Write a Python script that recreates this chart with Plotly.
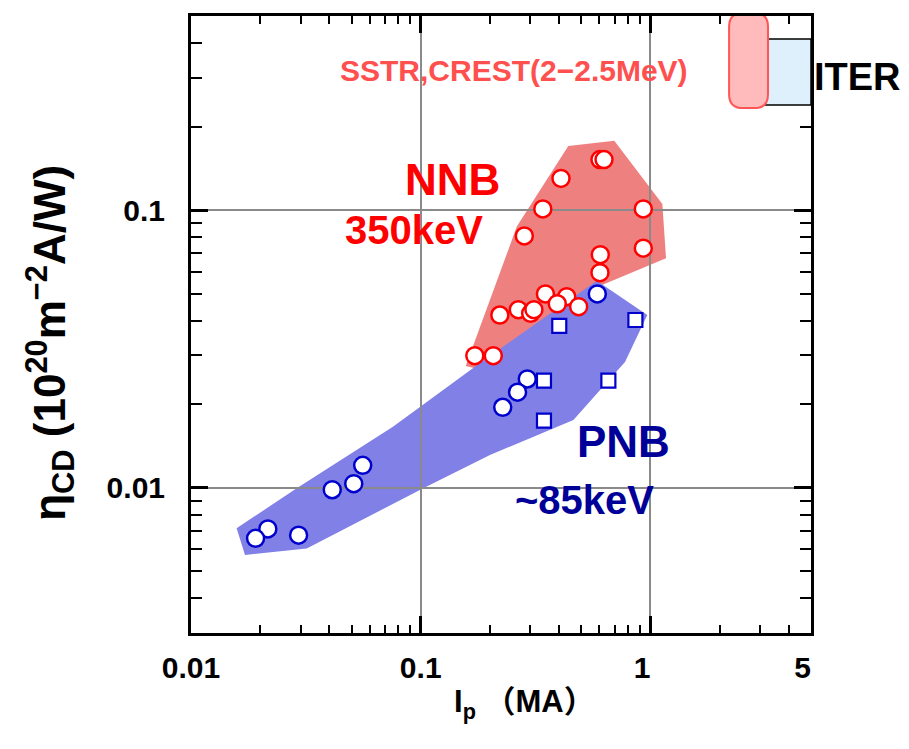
import math
import plotly.graph_objects as go

# ---------------- data ----------------
nnb_ip = [0.603, 0.628, 0.408, 0.340, 0.931, 0.2825, 0.931, 0.605, 0.603, 0.349,
          0.432, 0.393, 0.487, 0.266, 0.301, 0.311, 0.221, 0.172, 0.207]
nnb_eta = [0.152, 0.152, 0.130, 0.101, 0.101, 0.0807, 0.0729, 0.0691, 0.0595, 0.0499,
           0.0488, 0.0460, 0.0449, 0.0438, 0.0425, 0.0438, 0.0419, 0.0299, 0.0299]

pnb_circ_ip = [0.587, 0.291, 0.264, 0.2275, 0.0559, 0.0511, 0.0412, 0.0294, 0.0216, 0.0191]
pnb_circ_eta = [0.0499, 0.02465, 0.0221, 0.0195, 0.01205, 0.01035, 0.00984, 0.00675, 0.00711, 0.00658]

pnb_sq_ip = [0.401, 0.860, 0.344, 0.656, 0.344]
pnb_sq_eta = [0.0383, 0.0402, 0.0243, 0.0243, 0.01745]

# region envelopes
pnb_region_ip = [0.0158, 0.01718, 0.0319, 0.1026, 0.2002, 0.462, 0.775, 0.969, 0.584, 0.1812, 0.0757, 0.02885]
pnb_region_eta = [0.00715, 0.00573, 0.00605, 0.00996, 0.01313, 0.01755, 0.02838, 0.0419, 0.0557, 0.02815, 0.0166, 0.00996]

nnb_region_ip = [0.157, 0.262, 0.439, 0.696, 1.127, 1.169, 0.546, 0.2002]
nnb_region_eta = [0.02746, 0.0872, 0.1702, 0.1778, 0.1052, 0.0671, 0.0516, 0.0261]

iter_ip = [3.0, 5.0]
iter_eta = [0.239, 0.413]
sstr_ip = [2.2, 3.25]
sstr_eta = [0.233, 0.513]

x_tickvals = [0.01, 0.1, 1, 5]
x_ticktext = ["0.01", "0.1", "1\u2007", "5\u2007"]
x_minor = [0.02, 0.03, 0.04, 0.05, 0.06, 0.07, 0.08, 0.09,
           0.2, 0.3, 0.4, 0.5, 0.6, 0.7, 0.8, 0.9, 2, 3, 4]
y_tickvals = [0.01, 0.1, 0.5]
y_ticktext = ["0.01", "0.1", "0.5"]
y_minor = [0.004, 0.005, 0.006, 0.007, 0.008, 0.009,
           0.02, 0.03, 0.04, 0.05, 0.06, 0.07, 0.08, 0.09, 0.2, 0.3, 0.4]

FONT = "Liberation Sans, Noto Sans CJK JP, Arial, sans-serif"


def poly_path(xs, ys):
    pts = [f"{x:.6f},{y:.6f}" for x, y in zip(xs, ys)]
    return "M " + " L ".join(pts) + " Z"


def rounded_path(xr, yr, rx, ry):
    lx0, lx1 = math.log10(xr[0]), math.log10(xr[1])
    ly0, ly1 = math.log10(yr[0]), math.log10(yr[1])
    X = lambda v: f"{10 ** v:.6f}"
    Y = lambda v: f"{10 ** v:.6f}"
    return (f"M {X(lx0 + rx)},{Y(ly1)} L {X(lx1 - rx)},{Y(ly1)} "
            f"Q {X(lx1)},{Y(ly1)} {X(lx1)},{Y(ly1 - ry)} "
            f"L {X(lx1)},{Y(ly0 + ry)} Q {X(lx1)},{Y(ly0)} {X(lx1 - rx)},{Y(ly0)} "
            f"L {X(lx0 + rx)},{Y(ly0)} Q {X(lx0)},{Y(ly0)} {X(lx0)},{Y(ly0 + ry)} "
            f"L {X(lx0)},{Y(ly1 - ry)} Q {X(lx0)},{Y(ly1)} {X(lx0 + rx)},{Y(ly1)} Z")


fig = go.Figure()

fig.add_trace(go.Scatter(
    x=pnb_sq_ip, y=pnb_sq_eta, mode="markers",
    marker=dict(symbol="square", size=14, color="white",
                line=dict(color="#0000CC", width=2.2)),
    showlegend=False, cliponaxis=False))
fig.add_trace(go.Scatter(
    x=pnb_circ_ip, y=pnb_circ_eta, mode="markers",
    marker=dict(symbol="circle", size=17, color="white",
                line=dict(color="#0000CC", width=2.5)),
    showlegend=False, cliponaxis=False))
fig.add_trace(go.Scatter(
    x=nnb_ip, y=nnb_eta, mode="markers",
    marker=dict(symbol="circle", size=17, color="white",
                line=dict(color="#FF0000", width=2.5)),
    showlegend=False, cliponaxis=False))

shapes = [
    dict(type="path", path=poly_path(nnb_region_ip, nnb_region_eta), xref="x", yref="y",
         fillcolor="#EE8080", line=dict(width=0), layer="below"),
    dict(type="path", path=poly_path(pnb_region_ip, pnb_region_eta), xref="x", yref="y",
         fillcolor="#8080E6", line=dict(width=0), layer="below"),
    dict(type="rect", x0=iter_ip[0], x1=iter_ip[1], y0=iter_eta[0], y1=iter_eta[1],
         xref="x", yref="y", fillcolor="#DDF0FB", line=dict(color="black", width=1.5),
         layer="above"),
    dict(type="path", path=rounded_path(sstr_ip, sstr_eta, 0.06, 0.05), xref="x", yref="y",
         fillcolor="#FFBBBB", line=dict(color="#FF5555", width=2), layer="above"),
]

annotations = [
    dict(text="SSTR,CREST(2\u22122.5MeV)", x=0.521, y=0.9117, font=dict(size=30, color="#FF5050")),
    dict(text="NNB", x=0.421, y=0.7358, font=dict(size=44, color="#FF0000")),
    dict(text="350keV", x=0.359, y=0.6532, font=dict(size=40, color="#FF0000")),
    dict(text="PNB", x=0.697, y=0.3096, font=dict(size=44, color="#000099")),
    dict(text="~85keV", x=0.6347, y=0.2156, font=dict(size=40, color="#000099")),
    dict(text="ITER", x=1.075, y=0.901, font=dict(size=38, color="black")),
    dict(text="I<sub>p</sub> \uff08MA\uff09", x=0.538, y=-0.080,
         yanchor="top", font=dict(size=31, color="black")),
    dict(text="\u03b7<sub>CD</sub> (10<sup>20</sup>m<sup>\u22122</sup>A/W)", x=-0.227, y=0.4708,
         textangle=-90, font=dict(size=44, color="black")),
]
for a in annotations:
    a.setdefault("yanchor", "middle")
    a.update(xref="paper", yref="paper", showarrow=False, xanchor="center")
    a["font"].update(family=FONT, weight="bold")

axis_common = dict(
    type="log", ticks="inside", ticklen=17, tickwidth=2.5, tickcolor="black",
    showline=True, linecolor="black", linewidth=3, mirror="ticks",
    showgrid=True, gridcolor="#8A8A8A", gridwidth=2, zeroline=False,
    tickfont=dict(family=FONT, size=30, color="black", weight="bold"),
)

fig.update_layout(
    width=909, height=749,
    margin=dict(l=191, r=98, t=16, b=116),
    paper_bgcolor="white", plot_bgcolor="white",
    xaxis=dict(axis_common, range=[-2, math.log10(5)], tickvals=x_tickvals, ticktext=x_ticktext,
               ticklabelstandoff=6,
               minor=dict(tickvals=x_minor, ticks="inside", ticklen=8, tickwidth=2,
                          tickcolor="black", showgrid=False)),
    yaxis=dict(axis_common, range=[math.log10(0.003), math.log10(0.5)], tickvals=y_tickvals,
               ticktext=y_ticktext, ticklabelstandoff=17,
               minor=dict(tickvals=y_minor, ticks="inside", ticklen=11, tickwidth=2,
                          tickcolor="black", showgrid=False)),
    shapes=shapes, annotations=annotations, showlegend=False,
)

fig.write_html("out.html")
